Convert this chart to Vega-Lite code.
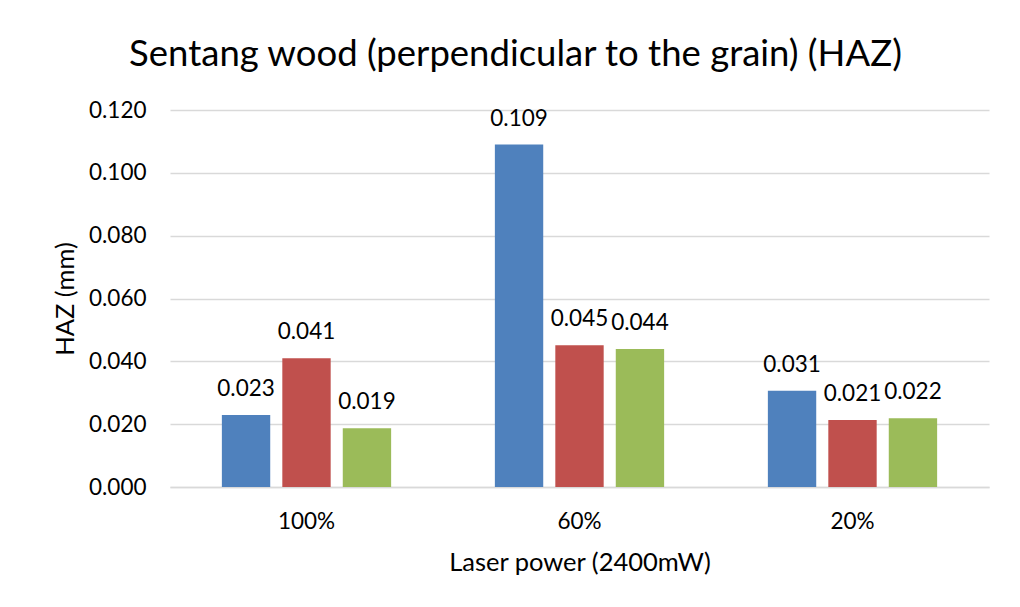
{
  "$schema": "https://vega.github.io/schema/vega-lite/v6.json",
  "autosize": {"type": "none"},
  "padding": {"left": 170, "top": 110, "right": 31, "bottom": 120},
  "width": 819,
  "height": 377,
  "background": "white",
  "title": {
    "text": "Sentang wood (perpendicular to the grain) (HAZ)",
    "anchor": "middle",
    "dx": -64,
    "offset": 26,
    "font": "Lato",
    "fontSize": 36.5,
    "fontWeight": "normal",
    "color": "#000000"
  },
  "data": {
    "values": [
      {"power": "100%", "series": "S1", "haz": 0.0229},
      {"power": "100%", "series": "S2", "haz": 0.0410},
      {"power": "100%", "series": "S3", "haz": 0.0187},
      {"power": "60%", "series": "S1", "haz": 0.1090},
      {"power": "60%", "series": "S2", "haz": 0.0451},
      {"power": "60%", "series": "S3", "haz": 0.0439},
      {"power": "20%", "series": "S1", "haz": 0.0306},
      {"power": "20%", "series": "S2", "haz": 0.0213},
      {"power": "20%", "series": "S3", "haz": 0.0219}
    ]
  },
  "encoding": {
    "x": {
      "field": "power",
      "type": "nominal",
      "sort": ["100%", "60%", "20%"],
      "scale": {"paddingInner": 0.38, "paddingOuter": 0.19},
      "axis": {
        "title": "Laser power (2400mW)",
        "labelAngle": 0,
        "ticks": false,
        "tickSize": 0,
        "labelPadding": 23,
        "titlePadding": 18,
        "domainColor": "#d9d9d9",
        "domainWidth": 1.5,
        "grid": false
      }
    },
    "xOffset": {
      "field": "series",
      "type": "nominal",
      "sort": ["S1", "S2", "S3"],
      "scale": {"paddingInner": 0.2, "paddingOuter": 0}
    },
    "y": {
      "field": "haz",
      "type": "quantitative",
      "scale": {"domain": [0, 0.12], "nice": false},
      "axis": {
        "title": "HAZ (mm)",
        "values": [0, 0.02, 0.04, 0.06, 0.08, 0.1, 0.12],
        "format": ".3f",
        "domain": false,
        "ticks": false,
        "tickSize": 0,
        "labelPadding": 24,
        "titlePadding": 10,
        "gridColor": "#d9d9d9",
        "gridWidth": 1.5
      }
    },
    "color": {
      "field": "series",
      "type": "nominal",
      "sort": ["S1", "S2", "S3"],
      "scale": {"domain": ["S1", "S2", "S3"], "range": ["#4F81BD", "#C0504D", "#9BBB59"]},
      "legend": null
    }
  },
  "layer": [
    {"mark": {"type": "bar"}},
    {
      "mark": {"type": "text", "baseline": "alphabetic", "dy": -19, "font": "Lato", "fontSize": 22.5, "color": "#000000"},
      "encoding": {
        "text": {"field": "haz", "type": "quantitative", "format": ".3f"},
        "color": {"value": "#000000"}
      }
    }
  ],
  "config": {
    "view": {"stroke": null},
    "axis": {
      "labelFont": "Lato",
      "labelFontSize": 22.5,
      "labelColor": "#000000",
      "titleFont": "Lato",
      "titleFontSize": 25.5,
      "titleFontWeight": "normal",
      "titleColor": "#000000"
    }
  }
}
